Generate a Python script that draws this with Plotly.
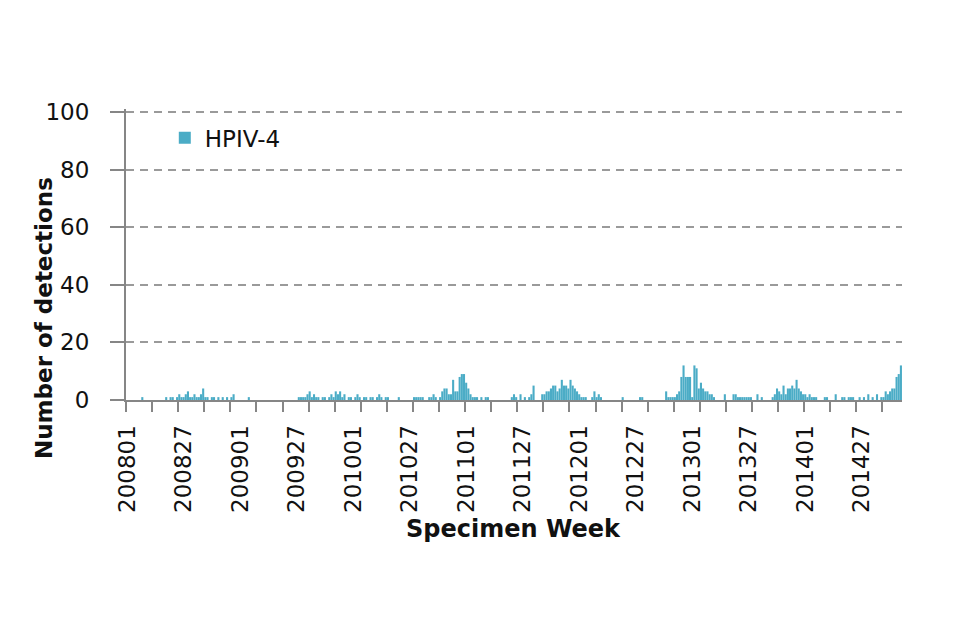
import plotly.graph_objects as go

# Weekly HPIV-4 detections, 2008 week 01 to 2014 week 45
years = [2008, 2009, 2010, 2011, 2012, 2013, 2014]
weeks_in_year = [52, 52, 52, 52, 52, 52, 45]

v2008 = [0,0,0,0,0,0,0,1,0,0, 0,0,0,0,0,0,0,0,1,0, 1,1,0,1,2,1,1,2,3,1,
         1,2,1,1,2,4,1,1,0,1, 1,0,1,0,1,0,1,0,1,2, 0,0]
v2009 = [0,0,0,0,1,0,0,0,0,0, 0,0,0,0,0,0,0,0,0,0, 0,0,0,0,0,0,0,1,1,1,
         1,2,3,1,2,1,1,0,1,1, 0,1,2,1,3,2,3,1,2,0, 1,1]
v2010 = [0,1,2,1,0,1,1,0,1,1, 0,1,2,1,0,1,1,0,0,0, 0,1,0,0,0,0,0,0,1,1,
         1,1,1,0,0,1,1,2,1,0, 1,3,4,4,2,2,7,3,3,8, 9,9]
v2011 = [6,4,2,1,1,1,0,1,0,1, 1,0,0,0,0,0,0,0,0,0, 0,1,2,1,0,2,0,1,0,1,
         2,5,0,0,0,2,2,3,3,4, 5,5,3,4,7,5,5,4,7,5, 4,3]
v2012 = [2,1,1,1,0,0,1,3,1,2, 1,0,0,0,0,0,0,0,0,0, 1,0,0,0,0,0,0,0,1,1,
         0,0,0,0,0,0,0,0,0,0, 3,1,1,1,1,2,3,8,12,8, 8,8]
v2013 = [1,12,11,4,6,4,3,3,2,2, 1,0,0,0,0,2,0,0,0,2, 2,1,1,1,1,1,1,1,0,0,
         2,0,1,0,0,0,0,1,2,4, 3,2,5,2,4,4,5,4,7,4, 3,2]
v2014 = [2,1,2,1,1,1,0,0,0,1, 1,0,0,0,2,0,0,1,1,0, 1,1,1,0,0,1,0,1,0,2,
         0,1,0,2,0,1,1,3,2,3, 4,4,8,9,12]

tick_labels = ["200801", "200827", "200901", "200927", "201001", "201027",
               "201101", "201127", "201201", "201227", "201301", "201327",
               "201401", "201427"]

series_name = "HPIV-4"

# Build category list and values
weeks = []
for y, n in zip(years, weeks_in_year):
    for w in range(1, n + 1):
        weeks.append(f"{y}{w:02d}")
values = v2008 + v2009 + v2010 + v2011 + v2012 + v2013 + v2014
idx = list(range(len(weeks)))
tickvals = [weeks.index(t) for t in tick_labels]

GRAY = "#868686"
fig = go.Figure()
fig.add_trace(go.Bar(
    x=idx, y=values, name=series_name,
    marker=dict(color="#4bacc6", line=dict(width=0)),
    customdata=weeks,
    hovertemplate="%{customdata}: %{y}<extra></extra>",
))

# plot area: x 126..902, y(0)=400, y(100)=112  -> range to 101 for top gridline
fig.update_layout(
    width=960, height=640,
    margin=dict(l=126, r=58, t=109, b=240),
    paper_bgcolor="white", plot_bgcolor="white",
    bargap=0.04,
    showlegend=True,
    legend=dict(x=0.05, y=0.975, xanchor="left", yanchor="top",
                font=dict(family="DejaVu Sans", size=23, color="#111"),
                bgcolor="rgba(0,0,0,0)"),
    font=dict(family="DejaVu Sans", color="#111"),
)

fig.update_xaxes(
    range=[-0.5, len(weeks) - 0.5],
    tickmode="array", tickvals=tickvals, ticktext=tick_labels,
    tickangle=-90, ticks="", ticklabelstandoff=14,
    tickfont=dict(family="DejaVu Sans", size=23, color="#111"),
    showline=True, linecolor=GRAY, linewidth=2,
    showgrid=False, zeroline=False,
    minor=dict(tickmode="linear", tick0=-0.5, dtick=12, ticks="outside",
               ticklen=10, tickwidth=2, tickcolor=GRAY, showgrid=False),
)

fig.update_yaxes(
    range=[0, 101], dtick=20, tick0=0,
    ticks="outside", ticklen=14, tickwidth=2, tickcolor=GRAY,
    ticklabelstandoff=16,
    tickfont=dict(family="DejaVu Sans", size=23, color="#111"),
    showline=True, linecolor=GRAY, linewidth=2,
    showgrid=True, gridcolor="#9a9a9a", gridwidth=1.5, griddash="8px,6px",
    zeroline=False,
)

fig.add_annotation(
    text="<b>Number of detections</b>", textangle=-90,
    xref="paper", yref="paper",
    x=(44 - 126) / 776, y=(400 - 318) / 291,
    xanchor="center", yanchor="middle", showarrow=False,
    font=dict(family="DejaVu Sans", size=23, color="#111"),
)
fig.add_annotation(
    text="<b>Specimen Week</b>",
    xref="paper", yref="paper",
    x=(513 - 126) / 776, y=-(529 - 400) / 291,
    xanchor="center", yanchor="middle", showarrow=False,
    font=dict(family="DejaVu Sans", size=24, color="#111"),
)

fig.write_html("out.html", config={"displayModeBar": False},
               post_script="document.body.style.margin='0';")
